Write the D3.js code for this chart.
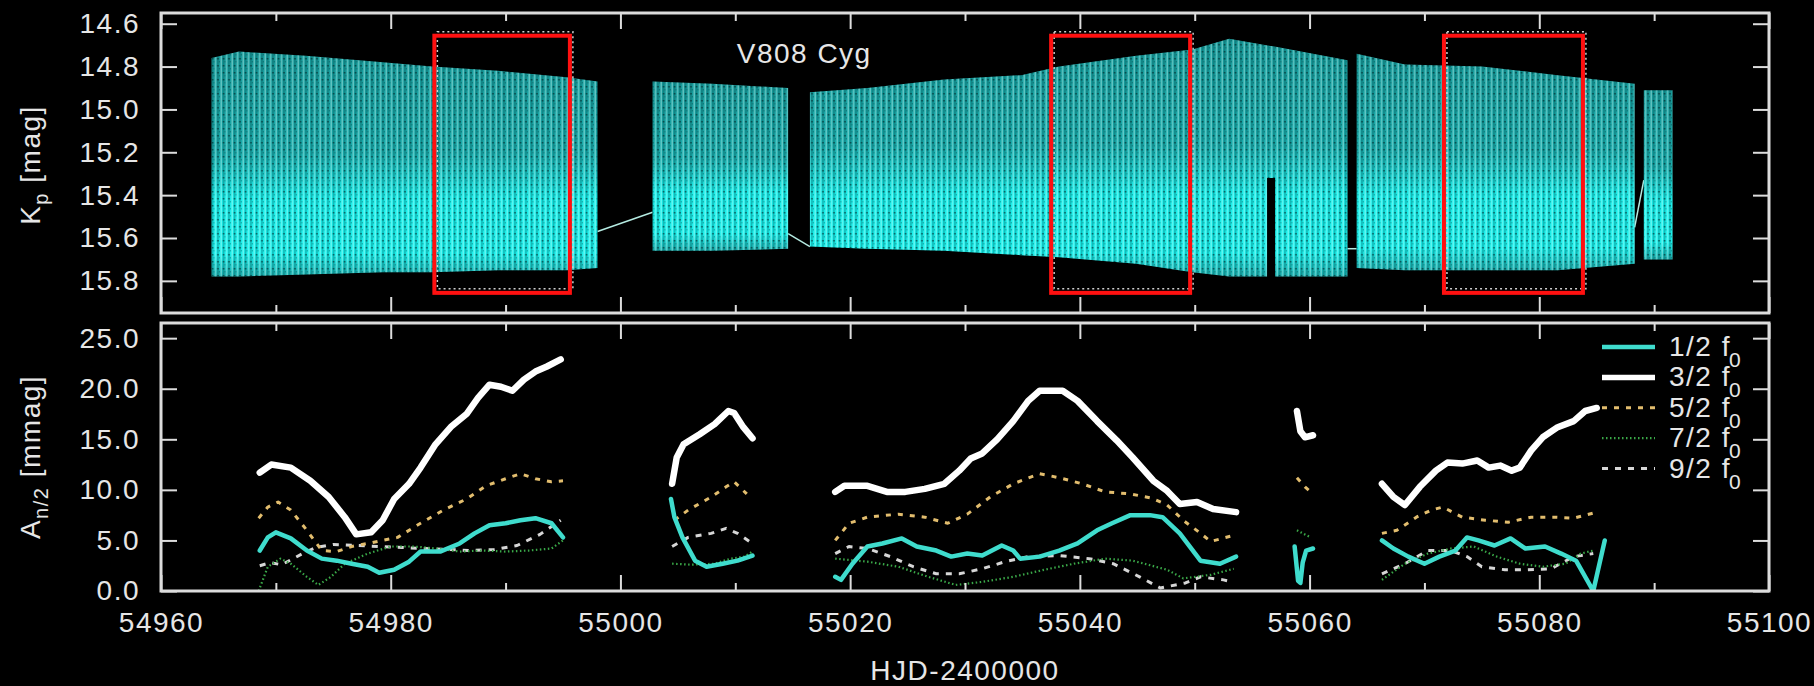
<!DOCTYPE html>
<html>
<head>
<meta charset="utf-8">
<script src="https://cdn.jsdelivr.net/npm/d3@7"></script>
<style>
    body { margin: 0; background: #000; }
    svg { display: block; }
    text { font-family: "Liberation Sans", Arial, Helvetica, sans-serif; fill: #e6e6e6; letter-spacing: 1.5px; }
</style>
</head>
<body>
<svg id="chart"></svg>
<script>
// V808 Cyg light curve (top) and half-integer sidepeak amplitudes (bottom)

// light curve envelope per observing run: [HJD-2400000, brightest Kp, faintest Kp]
let lcRun1 = [[54964.4, 14.76, 15.78], [54966.8, 14.73, 15.78], [54972.6, 14.75, 15.77], [54979.3, 14.78, 15.76],
    [54983.6, 14.80, 15.76], [54989.3, 14.82, 15.75], [54995.3, 14.85, 15.75], [54998.0, 14.87, 15.74]];
let lcRun2 = [[55002.8, 14.87, 15.66], [55008.0, 14.88, 15.66], [55014.6, 14.90, 15.65]];
let lcRun3 = [[55016.5, 14.92, 15.64], [55021.5, 14.90, 15.65], [55028.2, 14.86, 15.66], [55034.9, 14.84, 15.68],
    [55038.2, 14.80, 15.69], [55044.9, 14.75, 15.72], [55049.8, 14.72, 15.76], [55053.0, 14.67, 15.78],
    [55057.3, 14.71, 15.78], [55063.3, 14.77, 15.78]];
let lcRun4 = [[55064.1, 14.74, 15.74], [55068.3, 14.79, 15.75], [55075.0, 14.80, 15.75], [55081.6, 14.84, 15.75],
    [55088.3, 14.88, 15.72]];
let lcRun5 = [[55089.1, 14.91, 15.70], [55091.6, 14.91, 15.70]];
let lcRuns = [lcRun1, lcRun2, lcRun3, lcRun4, lcRun5];

// lines joining consecutive points across the gaps: [t0, Kp0, t1, Kp1]
let lcBridges = [[54998.0, 15.57, 55002.8, 15.48], [55014.6, 15.58, 55016.5, 15.64],
    [55063.3, 15.65, 55064.1, 15.65], [55088.3, 15.55, 55089.1, 15.33]];
// short dropout inside run 3: [t0, t1, Kp from]
let lcDropouts = [[55056.3, 55057.0, 15.32]];

// highlighted windows
let boxTimes = [[54983.8, 54995.6], [55037.5, 55049.6], [55071.7, 55083.8]];
let boxMags = [14.656, 15.856];

// amplitudes in mmag, null = gap between runs
let amp1 = [[54968.6, 4.0], [54969.3, 5.3], [54970.0, 5.8], [54971.3, 5.2], [54972.7, 4.0], [54974.0, 3.2], [54975.3, 3.0],
    [54976.6, 2.7], [54978.0, 2.4], [54979.0, 1.8], [54980.3, 2.1], [54981.6, 2.9], [54982.6, 3.9], [54984.3, 3.9],
    [54986.0, 4.7], [54987.3, 5.7], [54988.6, 6.5], [54990.0, 6.7], [54991.3, 7.0], [54992.6, 7.2], [54994.0, 6.7],
    [54995.0, 5.3], null,
    [55004.4, 9.1], [55004.7, 7.3], [55005.4, 5.3], [55006.5, 3.0], [55007.5, 2.4], [55008.9, 2.7], [55010.2, 3.0],
    [55011.5, 3.5], null,
    [55018.7, 1.4], [55019.2, 1.1], [55020.2, 2.7], [55021.5, 4.4], [55022.8, 4.7], [55024.5, 5.2], [55025.8, 4.4],
    [55027.5, 4.0], [55028.8, 3.4], [55030.2, 3.7], [55031.5, 3.5], [55033.2, 4.5], [55034.2, 4.0], [55034.8, 3.2],
    [55036.5, 3.4], [55038.2, 4.0], [55039.8, 4.7], [55041.5, 6.0], [55042.8, 6.7], [55044.4, 7.5], [55046.1, 7.5],
    [55047.2, 7.3], [55048.7, 5.7], [55050.5, 3.0], [55052.2, 2.7], [55053.6, 3.4], null,
    [55058.7, 4.4], [55059.0, 1.0], [55059.2, 0.8], [55059.4, 2.8], [55059.7, 4.0], [55060.3, 4.2], null,
    [55066.3, 5.0], [55067.3, 4.2], [55068.6, 3.4], [55070.0, 2.7], [55071.3, 3.4], [55072.7, 4.0], [55073.7, 5.3],
    [55074.7, 5.0], [55076.1, 4.5], [55077.5, 5.2], [55078.8, 4.2], [55080.5, 4.4], [55081.9, 3.7], [55083.2, 3.0],
    [55084.7, 0.0], [55085.7, 5.0]];

let amp3 = [[54968.6, 11.7], [54969.6, 12.5], [54971.3, 12.2], [54973.0, 10.9], [54974.6, 9.3], [54976.0, 7.3],
    [54977.0, 5.6], [54978.3, 5.8], [54979.3, 7.0], [54980.3, 9.1], [54981.6, 10.6], [54982.6, 12.2], [54983.9, 14.5],
    [54985.3, 16.3], [54986.6, 17.5], [54987.6, 19.1], [54988.6, 20.4], [54989.6, 20.2], [54990.6, 19.8],
    [54991.6, 20.9], [54992.6, 21.7], [54993.6, 22.2], [54994.8, 22.9], null,
    [55004.5, 10.6], [55004.9, 13.2], [55005.5, 14.5], [55006.9, 15.5], [55008.2, 16.5], [55009.4, 17.8],
    [55009.9, 17.6], [55010.7, 16.2], [55011.5, 15.1], null,
    [55018.7, 9.8], [55019.5, 10.4], [55021.5, 10.4], [55023.2, 9.8], [55024.8, 9.8], [55026.5, 10.1], [55028.2, 10.6],
    [55029.5, 11.9], [55030.5, 13.1], [55031.5, 13.6], [55032.8, 15.0], [55034.2, 16.8], [55035.5, 18.8],
    [55036.5, 19.8], [55038.5, 19.8], [55039.8, 18.8], [55041.5, 16.8], [55043.2, 14.9], [55044.6, 13.2],
    [55046.4, 10.9], [55047.6, 9.9], [55048.7, 8.6], [55050.2, 8.8], [55051.6, 8.1], [55053.6, 7.8], null,
    [55058.9, 17.8], [55059.2, 15.8], [55059.6, 15.2], [55060.3, 15.4], null,
    [55066.3, 10.6], [55067.3, 9.3], [55068.3, 8.5], [55069.6, 10.3], [55071.0, 11.9], [55072.0, 12.7], [55073.3, 12.6],
    [55074.6, 12.9], [55075.6, 12.2], [55076.6, 12.4], [55077.6, 11.9], [55078.3, 12.2], [55079.3, 13.9],
    [55080.3, 15.2], [55081.6, 16.2], [55083.0, 16.8], [55084.0, 17.8], [55085.0, 18.1]];

let amp5 = [[54968.5, 7.2], [54969.3, 8.3], [54970.2, 8.8], [54971.3, 8.0], [54972.7, 6.0], [54974.0, 4.0], [54975.3, 3.9],
    [54976.6, 4.4], [54978.0, 4.7], [54979.3, 5.0], [54980.6, 5.3], [54982.6, 6.7], [54984.6, 8.0], [54986.6, 9.1],
    [54988.3, 10.4], [54990.0, 11.1], [54991.3, 11.6], [54992.6, 11.1], [54994.0, 10.8], [54995.0, 10.9], null,
    [55004.7, 7.0], [55005.9, 8.0], [55007.9, 9.3], [55009.2, 10.3], [55009.9, 10.8], [55011.0, 9.6], null,
    [55018.7, 5.0], [55019.9, 6.7], [55021.5, 7.3], [55024.2, 7.6], [55026.5, 7.3], [55028.5, 6.7], [55030.2, 7.6],
    [55032.2, 9.3], [55034.2, 10.6], [55036.5, 11.6], [55038.2, 11.2], [55040.2, 10.6], [55042.2, 9.8],
    [55044.4, 9.6], [55046.2, 9.2], [55047.6, 8.5], [55049.1, 6.9], [55050.4, 5.8], [55051.4, 4.9], [55053.4, 5.5], null,
    [55058.9, 11.2], [55059.6, 10.3], [55060.3, 9.6], null,
    [55066.3, 5.7], [55067.6, 6.0], [55069.3, 7.3], [55070.6, 8.0], [55071.6, 8.3], [55073.3, 7.3], [55075.3, 7.0],
    [55077.3, 6.8], [55079.3, 7.3], [55081.3, 7.3], [55083.0, 7.2], [55085.0, 7.8]];

let amp7 = [[54968.5, 0.0], [54969.3, 2.4], [54970.4, 3.2], [54971.3, 2.7], [54972.7, 1.4], [54973.7, 0.6], [54974.8, 1.4],
    [54976.0, 2.7], [54978.0, 3.7], [54980.0, 4.4], [54982.0, 4.4], [54984.0, 4.2], [54986.0, 3.9], [54988.0, 4.0],
    [54990.0, 3.9], [54992.0, 4.0], [54994.0, 4.2], [54995.0, 5.0], null,
    [55004.5, 2.7], [55006.2, 2.6], [55008.2, 2.7], [55009.6, 3.2], [55010.8, 3.4], [55011.5, 3.9], null,
    [55018.7, 3.2], [55021.5, 2.9], [55024.2, 2.4], [55026.8, 1.4], [55029.2, 0.6], [55031.5, 0.9], [55034.2, 1.4],
    [55036.9, 2.1], [55039.5, 2.7], [55042.2, 3.2], [55044.6, 3.0], [55047.6, 2.1], [55049.0, 1.25], [55051.4, 1.6],
    [55053.4, 2.2], null,
    [55058.9, 6.0], [55060.1, 5.3], null,
    [55066.3, 1.1], [55068.3, 2.7], [55070.3, 3.7], [55072.3, 4.2], [55074.3, 4.4], [55076.3, 3.4], [55078.3, 2.7],
    [55080.3, 2.4], [55082.3, 2.7], [55083.6, 3.7], [55084.7, 4.0]];

let amp9 = [[54968.6, 2.5], [54969.5, 2.8], [54970.5, 2.6], [54971.5, 3.2], [54972.5, 3.8], [54973.5, 4.3], [54975.0, 4.6],
    [54977.0, 4.5], [54979.0, 4.4], [54981.0, 4.3], [54983.0, 4.2], [54985.0, 4.1], [54987.0, 4.0], [54989.0, 4.1],
    [54991.0, 4.5], [54993.0, 5.6], [54994.8, 7.0], null,
    [55004.5, 4.4], [55005.9, 5.3], [55007.9, 5.7], [55009.2, 6.2], [55010.2, 5.7], [55011.5, 4.7], null,
    [55018.7, 3.7], [55019.9, 4.4], [55021.5, 4.2], [55023.5, 3.4], [55025.5, 2.4], [55027.5, 1.7], [55029.5, 1.7],
    [55031.5, 2.2], [55033.5, 2.9], [55035.5, 3.4], [55038.2, 3.5], [55040.8, 3.2], [55042.9, 2.7], [55045.2, 1.4],
    [55047.0, 0.3], [55049.2, 0.8], [55050.5, 1.4], [55052.5, 1.1], [55053.3, 0.9], null,
    [55066.3, 1.7], [55068.3, 2.7], [55070.3, 4.0], [55072.3, 4.0], [55073.7, 3.4], [55075.0, 2.4], [55077.0, 2.1],
    [55079.0, 2.1], [55081.0, 2.2], [55083.0, 3.4], [55084.7, 3.7]];

let seriesNames = ["1/2", "3/2", "5/2", "7/2", "9/2"];
let seriesData = [amp1, amp3, amp5, amp7, amp9];

let xTicksMajor = [54960, 54980, 55000, 55020, 55040, 55060, 55080, 55100];
let xTicksMinor = [54970, 54990, 55010, 55030, 55050, 55070, 55090];
let kpTicks = [14.6, 14.8, 15.0, 15.2, 15.4, 15.6, 15.8];
let ampTicks = [0, 5, 10, 15, 20, 25];

// styles per series, same order as seriesNames
let seriesStyle = [
    {color: "#3fdccd", width: 4.5, dash: null},
    {color: "#ffffff", width: 6.5, dash: null},
    {color: "#e2bd6e", width: 3, dash: "5,7"},
    {color: "#3aa848", width: 2.2, dash: "1.5,2.5"},
    {color: "#d6d6d6", width: 3, dash: "6,7"}
];

let W = 1814, H = 686;
let plotLeft = 161, plotRight = 1769;
let topPanel = {top: 13, bottom: 313};
let botPanel = {top: 323, bottom: 591};

let svg = d3.select("#chart").attr("width", W).attr("height", H);
svg.append("rect").attr("width", W).attr("height", H).attr("fill", "#000");

let xScale = d3.scaleLinear().domain([54960, 55100]).range([plotLeft, plotRight]);
let kpScale = d3.scaleLinear().domain([14.55, 15.95]).range([topPanel.top, topPanel.bottom]);
let ampScale = d3.scaleLinear().domain([0, 26.5]).range([botPanel.bottom, botPanel.top]);

function buildDefs() {
    let defs = svg.append("defs");
    let grad = defs.append("linearGradient").attr("id", "lcGrad")
        .attr("x1", 0).attr("y1", 0).attr("x2", 0).attr("y2", 1);
    [[0, 0.72, "#20d6d6"], [0.45, 0.78, "#20dcdc"], [0.66, 1, "#1af0ec"], [0.9, 1, "#1af0ec"], [1, 0.8, "#20d6d6"]]
        .forEach(function (s) {
            grad.append("stop").attr("offset", s[0]).attr("stop-color", s[2]).attr("stop-opacity", s[1]);
        });

    let pat = defs.append("pattern").attr("id", "lcStripes")
        .attr("patternUnits", "userSpaceOnUse").attr("width", 5.5).attr("height", 7);
    pat.append("rect").attr("x", 0.6).attr("y", 0).attr("width", 1.1).attr("height", 7)
        .attr("fill", "#d8fffa").attr("opacity", 0.5);
    pat.append("rect").attr("x", 2.8).attr("y", 0).attr("width", 1.4).attr("height", 7)
        .attr("fill", "#003c3c").attr("opacity", 0.35);
    pat.append("rect").attr("x", 2.6).attr("y", 2).attr("width", 1.8).attr("height", 1.5)
        .attr("fill", "#001a1a").attr("opacity", 0.55);
    pat.append("rect").attr("x", 4.4).attr("y", 5.2).attr("width", 1).attr("height", 1.2)
        .attr("fill", "#001a1a").attr("opacity", 0.4);

    defs.append("clipPath").attr("id", "clipTop").append("rect")
        .attr("x", plotLeft).attr("y", topPanel.top)
        .attr("width", plotRight - plotLeft).attr("height", topPanel.bottom - topPanel.top);
    defs.append("clipPath").attr("id", "clipBot").append("rect")
        .attr("x", plotLeft).attr("y", botPanel.top)
        .attr("width", plotRight - plotLeft).attr("height", botPanel.bottom - botPanel.top);
}

function drawLightCurve() {
    let g = svg.append("g").attr("clip-path", "url(#clipTop)");

    let envelope = d3.area()
        .x(function (d) { return xScale(d[0]); })
        .y0(function (d) { return kpScale(d[2]); })
        .y1(function (d) { return kpScale(d[1]); });

    g.selectAll(".bridge")
        .data(lcBridges)
        .enter()
        .append("line")
        .attr("x1", function (d) { return xScale(d[0]); })
        .attr("y1", function (d) { return kpScale(d[1]); })
        .attr("x2", function (d) { return xScale(d[2]); })
        .attr("y2", function (d) { return kpScale(d[3]); })
        .attr("stroke", "#b5ebe2")
        .attr("stroke-width", 1.5);

    g.selectAll(".run")
        .data(lcRuns)
        .enter()
        .append("path")
        .attr("d", envelope)
        .attr("fill", "url(#lcGrad)");

    g.selectAll(".runTex")
        .data(lcRuns)
        .enter()
        .append("path")
        .attr("d", envelope)
        .attr("fill", "url(#lcStripes)");

    g.selectAll(".dropout")
        .data(lcDropouts)
        .enter()
        .append("rect")
        .attr("x", function (d) { return xScale(d[0]); })
        .attr("width", function (d) { return xScale(d[1]) - xScale(d[0]); })
        .attr("y", function (d) { return kpScale(d[2]); })
        .attr("height", function (d) { return kpScale(15.8) - kpScale(d[2]); })
        .attr("fill", "#000");

    // the dotted frame sits a little off the red one
    g.selectAll(".boxShadow")
        .data(boxTimes)
        .enter()
        .append("rect")
        .attr("x", function (d) { return xScale(d[0]) + 3; })
        .attr("y", kpScale(boxMags[0]) - 4)
        .attr("width", function (d) { return xScale(d[1]) - xScale(d[0]); })
        .attr("height", kpScale(boxMags[1]) - kpScale(boxMags[0]))
        .attr("fill", "none")
        .attr("stroke", "#cfcfcf")
        .attr("stroke-width", 1.5)
        .attr("stroke-dasharray", "2,3");

    g.selectAll(".box")
        .data(boxTimes)
        .enter()
        .append("rect")
        .attr("x", function (d) { return xScale(d[0]); })
        .attr("y", kpScale(boxMags[0]))
        .attr("width", function (d) { return xScale(d[1]) - xScale(d[0]); })
        .attr("height", kpScale(boxMags[1]) - kpScale(boxMags[0]))
        .attr("fill", "none")
        .attr("stroke", "#ff1010")
        .attr("stroke-width", 4);

    svg.append("text")
        .attr("x", xScale(55016))
        .attr("y", 63)
        .attr("text-anchor", "middle")
        .attr("font-size", 28)
        .text("V808 Cyg");
}

function drawAmplitudes() {
    let g = svg.append("g").attr("clip-path", "url(#clipBot)");
    let line = d3.line()
        .defined(function (d) { return d !== null; })
        .x(function (d) { return xScale(d[0]); })
        .y(function (d) { return ampScale(d[1]); });

    // faint harmonics first, 3/2 on top
    [4, 3, 2, 0, 1].forEach(function (i) {
        let st = seriesStyle[i];
        g.append("path")
            .datum(seriesData[i])
            .attr("d", line)
            .attr("fill", "none")
            .attr("stroke", st.color)
            .attr("stroke-width", st.width)
            .attr("stroke-linejoin", "round")
            .attr("stroke-linecap", st.dash ? "butt" : "round")
            .attr("stroke-dasharray", st.dash);
    });
}

function drawLegend() {
    let lx0 = 1602, lx1 = 1655, tx = 1669, ly = 347, step = 30.4;
    let g = svg.append("g");
    seriesNames.forEach(function (name, i) {
        let st = seriesStyle[i];
        let y = ly + i * step;
        g.append("line")
            .attr("x1", lx0).attr("x2", lx1).attr("y1", y).attr("y2", y)
            .attr("stroke", st.color)
            .attr("stroke-width", Math.min(st.width, 5.5))
            .attr("stroke-dasharray", st.dash);
        let t = g.append("text")
            .attr("x", tx).attr("y", y + 9)
            .attr("font-size", 28);
        t.append("tspan").text(name + " f");
        t.append("tspan").attr("dy", 11).attr("dx", -2).attr("font-size", 21).text("0");
    });
}

function drawAxes() {
    let frame = svg.append("g");
    [topPanel, botPanel].forEach(function (p) {
        frame.append("rect")
            .attr("x", plotLeft).attr("y", p.top)
            .attr("width", plotRight - plotLeft).attr("height", p.bottom - p.top)
            .attr("fill", "none").attr("stroke", "#dcdcdc").attr("stroke-width", 3);
    });

    function style(sel) {
        sel.select(".domain").remove();
        sel.selectAll(".tick line").attr("stroke", "#dcdcdc").attr("stroke-width", 2);
        sel.selectAll("text").attr("fill", "#e6e6e6").attr("font-size", 28)
            .attr("font-family", "Liberation Sans, Arial, sans-serif");
    }

    [topPanel, botPanel].forEach(function (p, pi) {
        let showLabels = pi === 1;
        svg.append("g").attr("transform", "translate(0," + p.bottom + ")")
            .call(d3.axisBottom(xScale).tickValues(xTicksMajor).tickSize(-16).tickPadding(21)
                .tickFormat(showLabels ? d3.format("d") : ""))
            .call(style);
        svg.append("g").attr("transform", "translate(0," + p.bottom + ")")
            .call(d3.axisBottom(xScale).tickValues(xTicksMinor).tickSize(-8).tickFormat(""))
            .call(style);
        svg.append("g").attr("transform", "translate(0," + p.top + ")")
            .call(d3.axisTop(xScale).tickValues(xTicksMajor).tickSize(-16).tickFormat(""))
            .call(style);
        svg.append("g").attr("transform", "translate(0," + p.top + ")")
            .call(d3.axisTop(xScale).tickValues(xTicksMinor).tickSize(-8).tickFormat(""))
            .call(style);
    });

    svg.append("g").attr("transform", "translate(" + plotLeft + ",0)")
        .call(d3.axisLeft(kpScale).tickValues(kpTicks).tickSize(-16).tickPadding(21).tickFormat(d3.format(".1f")))
        .call(style);
    svg.append("g").attr("transform", "translate(" + plotRight + ",0)")
        .call(d3.axisRight(kpScale).tickValues(kpTicks).tickSize(-16).tickFormat(""))
        .call(style);
    svg.append("g").attr("transform", "translate(" + plotLeft + ",0)")
        .call(d3.axisLeft(ampScale).tickValues(ampTicks).tickSize(-16).tickPadding(21).tickFormat(d3.format(".1f")))
        .call(style);
    svg.append("g").attr("transform", "translate(" + plotRight + ",0)")
        .call(d3.axisRight(ampScale).tickValues(ampTicks).tickSize(-16).tickFormat(""))
        .call(style);

    // axis titles
    let kp = svg.append("text")
        .attr("transform", "translate(40,165) rotate(-90)")
        .attr("text-anchor", "middle")
        .attr("font-size", 28);
    kp.append("tspan").text("K");
    kp.append("tspan").attr("dy", 8).attr("font-size", 20).text("p");
    kp.append("tspan").attr("dy", -8).text(" [mag]");

    let an = svg.append("text")
        .attr("transform", "translate(40,457) rotate(-90)")
        .attr("text-anchor", "middle")
        .attr("font-size", 28);
    an.append("tspan").text("A");
    an.append("tspan").attr("dy", 8).attr("font-size", 20).text("n/2");
    an.append("tspan").attr("dy", -8).text(" [mmag]");

    svg.append("text")
        .attr("x", xScale(55030))
        .attr("y", 680)
        .attr("text-anchor", "middle")
        .attr("font-size", 28)
        .text("HJD-2400000");
}

buildDefs();
drawLightCurve();
drawAmplitudes();
drawAxes();
drawLegend();
</script>
</body>
</html>
